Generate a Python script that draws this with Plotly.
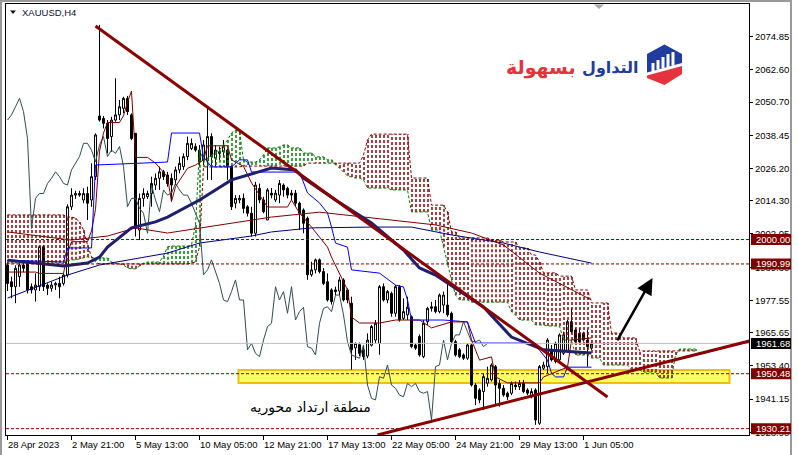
import plotly.graph_objects as go

# ---------------------------------------------------------------- data
# H4 candles, bar 0 = 28 Apr 2023
bar_open = [
    1990.6, 1984.4, 1982.6, 1986.3, 1990.6, 1991.2, 1982.6, 1981.4, 1982.6, 1997.4,
    1983.2, 1982.0, 1983.2, 1983.8, 1983.8, 1986.9, 2012.1, 2016.4, 2017.0, 2014.6,
    2017.0, 2014.6, 2023.2, 2045.6, 2044.7, 2042.9, 2038.0, 2044.1, 2046.0, 2048.4,
    2052.1, 2046.0, 2039.2, 2003.5, 2015.2, 2015.8, 2017.0, 2020.1, 2022.6, 2025.0,
    2023.8, 2022.6, 2022.0, 2025.7, 2026.9, 2030.6, 2033.6, 2034.3, 2033.0, 2029.3,
    2029.0, 2038.0, 2030.0, 2032.4, 2032.4, 2033.0, 2026.9, 2013.4, 2014.6, 2015.2,
    2012.1, 2009.7, 2002.3, 2018.9, 2014.6, 2007.2, 2017.1, 2014.6, 2016.4, 2020.1,
    2018.9, 2017.1, 2017.1, 2013.4, 2010.9, 2007.9, 1987.0, 1988.8, 1992.5, 1988.2,
    1984.4, 1981.4, 1981.4, 1981.0, 1985.1, 1981.4, 1976.5, 1960.0, 1961.2, 1959.3,
    1957.0, 1961.0, 1962.9, 1961.7, 1982.6, 1977.7, 1980.1, 1972.8, 1982.6, 1970.9,
    1972.2, 1971.5, 1961.1, 1964.2, 1956.8, 1969.7, 1974.6, 1975.2, 1973.4, 1975.8,
    1975.8, 1972.8, 1962.3, 1959.3, 1957.4, 1956.2, 1961.1, 1946.3, 1944.5, 1943.9,
    1947.0, 1948.2, 1953.1, 1946.9, 1945.1, 1943.3, 1943.3, 1946.3, 1945.7, 1946.9,
    1944.5, 1942.0, 1944.5, 1932.2, 1952.5, 1953.1, 1959.3, 1955.0, 1955.6, 1958.0,
    1958.6, 1969.7, 1966.6, 1965.4, 1965.4, 1962.9, 1959.9]
bar_high = [
    1991.5, 1986.3, 1990.5, 1992.4, 1991.5, 1992.0, 1983.8, 1987.5, 1997.8, 1998.0,
    1983.8, 1984.4, 1984.4, 1986.3, 1987.5, 2013.0, 2018.9, 2018.0, 2018.0, 2018.9,
    2019.5, 2028.1, 2039.2, 2079.2, 2045.6, 2044.1, 2045.3, 2059.5, 2051.5, 2052.7,
    2053.0, 2046.6, 2039.2, 2017.0, 2018.9, 2018.0, 2023.2, 2024.4, 2026.9, 2025.7,
    2025.0, 2024.4, 2026.9, 2030.6, 2031.8, 2038.0, 2037.3, 2035.5, 2034.9, 2036.7,
    2049.0, 2039.2, 2034.9, 2034.3, 2036.7, 2033.6, 2027.5, 2016.4, 2016.4, 2017.0,
    2012.7, 2012.1, 2021.3, 2020.7, 2015.8, 2019.0, 2019.0, 2018.3, 2022.0, 2020.7,
    2019.5, 2018.3, 2018.3, 2014.0, 2011.5, 2008.5, 1991.8, 1993.0, 1993.0, 1989.5,
    1987.5, 1982.0, 1982.6, 1986.3, 1985.7, 1982.0, 1978.9, 1962.0, 1962.0, 1960.5,
    1965.4, 1968.5, 1970.3, 1983.2, 1983.8, 1981.4, 1980.8, 1983.2, 1983.2, 1978.3,
    1978.9, 1972.0, 1961.7, 1965.0, 1970.3, 1975.2, 1977.0, 1977.7, 1980.1, 1980.8,
    1983.8, 1973.4, 1963.0, 1960.0, 1958.0, 1961.7, 1961.7, 1947.0, 1945.1, 1950.6,
    1953.1, 1954.3, 1953.7, 1948.2, 1946.3, 1943.9, 1947.6, 1947.6, 1948.2, 1948.2,
    1945.1, 1945.1, 1945.1, 1953.7, 1954.9, 1963.6, 1961.1, 1962.3, 1965.4, 1966.0,
    1970.3, 1974.6, 1967.3, 1967.3, 1966.0, 1966.6, 1962.3]
bar_low = [
    1981.0, 1978.3, 1976.5, 1982.6, 1988.0, 1980.1, 1980.1, 1977.1, 1981.0, 1981.0,
    1979.5, 1980.8, 1981.4, 1978.3, 1983.0, 1986.0, 2010.9, 2015.0, 2015.8, 2013.4,
    2007.2, 2012.1, 2022.0, 2043.5, 2041.0, 2031.8, 2032.4, 2043.5, 2044.1, 2046.6,
    2046.0, 2036.7, 2001.1, 1999.8, 2012.1, 2015.0, 2012.1, 2018.3, 2018.3, 2022.0,
    2019.5, 2014.6, 2020.1, 2024.4, 2025.7, 2029.3, 2033.0, 2032.4, 2026.9, 2027.5,
    2022.0, 2022.0, 2026.9, 2029.4, 2030.6, 2022.0, 2010.9, 2011.5, 2013.4, 2009.7,
    2008.5, 2001.1, 2001.1, 2013.4, 2009.7, 2007.2, 2015.2, 2013.9, 2013.4, 2015.8,
    2015.2, 2014.6, 2012.1, 2003.5, 2002.3, 1985.1, 1986.3, 1987.5, 1987.5, 1983.2,
    1977.1, 1976.0, 1979.5, 1979.5, 1977.1, 1976.5, 1951.9, 1955.6, 1957.0, 1955.6,
    1956.2, 1960.5, 1961.7, 1957.5, 1977.1, 1976.5, 1971.5, 1971.5, 1969.7, 1970.3,
    1970.3, 1959.9, 1959.3, 1956.8, 1956.2, 1968.5, 1973.4, 1972.8, 1972.8, 1972.8,
    1971.5, 1961.7, 1956.8, 1956.2, 1955.6, 1955.6, 1945.7, 1938.9, 1939.6, 1937.1,
    1945.7, 1947.6, 1938.9, 1938.3, 1942.0, 1940.8, 1942.6, 1944.5, 1944.5, 1943.3,
    1942.6, 1941.4, 1931.6, 1931.6, 1951.9, 1950.6, 1955.0, 1954.3, 1955.0, 1957.4,
    1958.6, 1965.4, 1961.7, 1961.7, 1962.3, 1953.1, 1959.3]
bar_close = [
    1983.8, 1982.6, 1989.4, 1990.6, 1989.4, 1981.4, 1981.4, 1983.2, 1997.4, 1982.6,
    1982.0, 1983.2, 1983.8, 1982.6, 1986.9, 2012.1, 2016.4, 2017.0, 2016.4, 2017.0,
    2013.4, 2023.2, 2038.6, 2044.1, 2042.9, 2037.3, 2044.1, 2046.0, 2049.0, 2052.1,
    2047.2, 2037.3, 2004.1, 2015.2, 2017.0, 2017.0, 2020.7, 2022.6, 2025.0, 2023.2,
    2020.7, 2020.1, 2025.7, 2028.1, 2030.6, 2035.5, 2035.5, 2033.0, 2028.7, 2034.9,
    2038.0, 2030.6, 2033.0, 2031.8, 2034.3, 2026.9, 2012.1, 2015.2, 2015.2, 2011.5,
    2009.7, 2002.3, 2020.1, 2014.6, 2010.3, 2018.3, 2016.4, 2017.1, 2020.7, 2018.3,
    2016.4, 2016.4, 2013.4, 2009.7, 2006.0, 1987.0, 1988.8, 1992.5, 1988.2, 1983.8,
    1977.7, 1977.1, 1980.8, 1985.1, 1977.7, 1977.7, 1959.3, 1961.7, 1958.0, 1956.8,
    1962.9, 1967.9, 1969.1, 1982.6, 1977.7, 1980.8, 1972.8, 1982.6, 1970.3, 1973.4,
    1975.0, 1960.5, 1959.9, 1957.4, 1969.1, 1974.6, 1975.2, 1973.4, 1979.5, 1979.5,
    1972.2, 1962.3, 1957.4, 1956.8, 1956.2, 1961.1, 1946.3, 1941.4, 1940.8, 1949.4,
    1948.8, 1953.7, 1946.3, 1945.1, 1942.6, 1942.0, 1946.9, 1945.7, 1946.9, 1943.9,
    1943.3, 1943.9, 1933.4, 1953.1, 1953.7, 1962.9, 1955.6, 1961.7, 1964.8, 1964.8,
    1969.7, 1966.0, 1962.3, 1962.3, 1962.9, 1960.5, 1961.68]
bar_index = list(range(len(bar_close)))

axis_tick_bars = [0, 16, 32, 48, 64, 80, 96, 112, 128, 144]
axis_tick_text = ["28 Apr 2023", "2 May 21:00", "5 May 13:00", "10 May 05:00",
                  "12 May 21:00", "17 May 13:00", "22 May 05:00", "24 May 21:00",
                  "29 May 13:00", "1 Jun 05:00"]
price_ticks = [2074.85, 2062.60, 2050.70, 2038.45, 2026.20, 2014.30, 2002.05,
               1989.80, 1977.55, 1965.65, 1953.40, 1941.15, 1928.90]

# Ichimoku cloud (senkou spans, one value per bar, bars 0..172)
senkou_a = [
    1991.3, 1991.3, 1991.3, 1991.3, 1991.3, 1991.3, 1991.3, 1991.3, 1991.3, 1991.3,
    1991.3, 1991.3, 1991.3, 1991.3, 1991.3, 1992.1, 1992.5, 1992.5, 1992.8, 1993.2,
    1993.6, 1993.2, 1993.2, 1993.2, 1993.2, 1993.2, 1991.7, 1991.3, 1991.0, 1990.6,
    1989.5, 1989.2, 1989.2, 1990.2, 1991.3, 1991.7, 1991.7, 1991.7, 1991.7, 1993.9,
    1997.3, 1997.6, 1997.6, 1997.6, 1997.6, 1997.6, 1998.0, 2005.4, 2033.1, 2029.4,
    2030.1, 2031.2, 2032.3, 2033.1, 2034.9, 2036.7, 2039.3, 2040.4, 2039.7, 2029.4,
    2028.6, 2028.6, 2028.6, 2029.4, 2031.2, 2033.8, 2033.8, 2033.8, 2034.2, 2034.9,
    2034.9, 2033.8, 2033.8, 2033.8, 2031.9, 2031.9, 2031.9, 2030.5, 2030.5, 2030.5,
    2029.4, 2029.4, 2027.5, 2026.4, 2024.9, 2023.5, 2023.1, 2022.7, 2022.7, 2022.0,
    2019.0, 2019.0, 2019.0, 2019.0, 2019.0, 2019.0, 2018.3, 2018.3, 2018.3, 2018.3,
    2018.3, 2010.2, 2010.2, 2010.2, 2010.2, 2010.2, 2003.5, 2003.5, 2003.5, 1997.3,
    1990.6, 1985.1, 1979.5, 1977.7, 1977.7, 1977.7, 1976.9, 1976.9, 1976.9, 1976.9,
    1976.9, 1976.9, 1976.9, 1976.9, 1976.9, 1976.9, 1973.3, 1972.2, 1970.3, 1970.3,
    1970.3, 1970.3, 1968.5, 1968.5, 1968.5, 1968.1, 1968.1, 1968.1, 1968.1, 1962.9,
    1962.9, 1962.9, 1957.4, 1957.4, 1957.4, 1957.4, 1956.3, 1956.3, 1956.3, 1953.7,
    1953.7, 1953.7, 1953.7, 1953.7, 1953.7, 1953.7, 1951.9, 1951.9, 1951.9, 1951.1,
    1951.1, 1951.1, 1951.1, 1948.9, 1948.9, 1948.9, 1948.9, 1957.4, 1959.6, 1959.6,
    1959.6, 1959.6, 1959.6]
senkou_b = [
    2009.1, 2009.1, 2009.1, 2009.1, 2009.1, 2009.1, 2009.1, 2009.1, 2009.1, 2009.1,
    2009.1, 2009.1, 2009.1, 2009.1, 2009.1, 2008.3, 2008.3, 2007.9, 2006.5, 2003.5,
    1998.0, 1993.6, 1991.7, 1991.0, 1991.0, 1991.0, 1991.0, 1991.0, 1991.0, 1991.0,
    1991.0, 1991.0, 1991.0, 1991.0, 1991.0, 1991.0, 1991.0, 1991.0, 1991.0, 1991.0,
    1991.0, 1991.0, 1991.0, 1991.0, 1991.0, 1991.0, 1991.3, 1991.7, 1997.3, 2026.8,
    2026.8, 2026.8, 2026.8, 2026.8, 2026.8, 2026.8, 2026.8, 2026.8, 2026.8, 2027.1,
    2027.1, 2027.1, 2027.1, 2027.1, 2027.1, 2027.1, 2027.1, 2027.1, 2027.1, 2027.1,
    2027.1, 2027.1, 2027.1, 2027.1, 2027.1, 2028.2, 2028.2, 2028.2, 2028.2, 2028.2,
    2028.2, 2028.2, 2028.2, 2028.2, 2028.2, 2028.2, 2028.2, 2028.2, 2028.2, 2031.2,
    2036.7, 2038.9, 2038.9, 2038.9, 2038.9, 2038.9, 2038.9, 2038.9, 2038.9, 2038.9,
    2038.9, 2022.7, 2022.7, 2022.7, 2022.7, 2022.7, 2012.7, 2012.7, 2012.7, 2012.7,
    2010.2, 2002.8, 2002.8, 2000.6, 2000.6, 2000.6, 2000.6, 2000.6, 2000.6, 2000.6,
    2000.6, 1999.8, 1999.8, 1999.8, 1999.1, 1999.1, 1999.1, 1999.1, 1996.9, 1996.9,
    1996.9, 1994.3, 1994.3, 1991.7, 1987.7, 1987.7, 1987.7, 1987.7, 1986.5, 1986.5,
    1986.5, 1986.5, 1981.4, 1981.4, 1981.4, 1981.4, 1976.6, 1976.6, 1976.6, 1976.6,
    1976.6, 1965.5, 1965.5, 1965.5, 1963.7, 1963.7, 1963.7, 1963.7, 1958.9, 1958.9,
    1958.9, 1958.9, 1958.9, 1958.9, 1958.9, 1958.9, 1958.9, 1958.9, 1958.9, 1958.9,
    1958.9, 1958.9, 1958.9]
cloud_bars = list(range(len(senkou_a)))

# Tenkan-sen (dark red, stepped)
tenkan_bars = [0, 7, 8, 14, 15, 16, 20, 21, 22, 23, 24, 25, 28, 29, 30, 31, 32, 35,
               37, 40, 41, 42, 45, 47, 49, 50, 55, 56, 59, 61, 65, 70, 71, 73, 76,
               78, 80, 81, 83, 85, 86, 88, 93, 97, 103, 106, 111, 115, 116, 118, 121,
               122, 125, 133, 134, 137, 140, 141, 146]
tenkan_vals = [1988.0, 1988.0, 1987.5, 1987.5, 1995.0, 1999.2, 1999.2, 2003.2, 2011.1,
               2032.6, 2039.3, 2043.2, 2043.2, 2045.7, 2050.6, 2054.8, 2030.3, 2030.3,
               2028.2, 2023.1, 2014.0, 2019.5, 2026.3, 2027.5, 2029.4, 2034.6, 2034.6,
               2029.4, 2027.0, 2020.9, 2012.0, 2012.0, 2014.6, 2009.8, 2004.6, 2000.9,
               1997.2, 1993.5, 1987.6, 1981.4, 1971.4, 1969.2, 1969.2, 1970.3, 1970.3,
               1967.4, 1969.6, 1969.6, 1963.0, 1955.5, 1956.7, 1949.3, 1947.1, 1947.1,
               1949.3, 1951.1, 1952.9, 1962.9, 1963.7]
# Kijun-sen (blue, stepped)
kijun_bars = [0, 14, 15, 21, 22, 40, 41, 48, 49, 51, 56, 58, 60, 61, 73, 75, 78, 80,
              81, 82, 85, 86, 93, 97, 99, 100, 101, 109, 115, 116, 117, 131, 133, 135,
              136, 137, 139, 140, 146]
kijun_vals = [1992.4, 1991.7, 1996.9, 1996.9, 2027.5, 2028.6, 2039.3, 2039.3, 2030.5,
              2026.8, 2026.8, 2029.4, 2029.4, 2024.9, 2024.9, 2017.2, 2013.5, 2009.8,
              2004.6, 1998.7, 1997.2, 1988.8, 1987.6, 1983.2, 1982.5, 1977.7, 1970.3,
              1970.3, 1969.6, 1965.5, 1961.8, 1961.8, 1959.2, 1955.5, 1950.7, 1949.3,
              1949.3, 1952.9, 1952.9]
chikou_shift = 26

# moving averages
ma_thick_bars = [0, 14, 20, 23, 25, 31, 37, 40, 48, 50, 56, 66, 72, 74, 82, 91, 99,
                 103, 107, 119, 126, 134, 146]
ma_thick_vals = [1992.4, 1990.2, 1991.3, 1993.5, 1997.2, 2004.3, 2006.5, 2008.3,
                 2014.6, 2016.4, 2022.0, 2026.4, 2025.7, 2022.7, 2014.6, 2006.1,
                 1996.1, 1989.5, 1986.9, 1975.1, 1964.0, 1959.3, 1958.1]
ma_navy_bars = [0, 15, 23, 40, 48, 61, 66, 76, 91, 101, 111, 124, 133, 146]
ma_navy_vals = [1978.4, 1986.9, 1990.6, 1995.0, 1998.7, 2001.3, 2002.8, 2004.3,
                2004.6, 2004.6, 2001.7, 1998.7, 1995.4, 1991.3]
ma_red_bars = [0, 16, 25, 32, 40, 50, 66, 78, 91, 107, 116, 124, 133, 146]
ma_red_vals = [2002.8, 1999.8, 2001.3, 2004.3, 2002.4, 2004.6, 2008.3, 2010.1,
               2007.9, 2005.4, 2002.4, 1998.0, 1987.6, 1977.7]

# drawn objects
level_prices = [2000.00, 1990.99, 1950.48, 1930.21]
bid_price = 1961.68
down_trend_bars = [22, 150]
down_trend_prices = [2078.8, 1941.9]
up_trend_bars = [92.5, 185.5]
up_trend_prices = [1927.87, 1962.56]
zone_bars = [57.75, 180.5]
zone_prices = [1947.06, 1951.85]
arrow_bars = [152.25, 161.25]
arrow_prices = [1962.2, 1985.8]
zone_label = "منطقة ارتداد محوريه"
zone_label_bar = 75.75
zone_label_price = 1938.2

# ---------------------------------------------------------------- layout consts
W, H = 798, 455
ML, MR, MT, MB = 6, 49, 4, 20
PW, PH = W - ML - MR, H - MT - MB
X_RANGE = [-0.375, 185.375]
Y_RANGE = [1927.87, 2086.92]
UNIT_PER_PX = (Y_RANGE[1] - Y_RANGE[0]) / PH
FONT = "Liberation Sans"
DARKRED = "#800000"
HATCH_RED = "#8B0000"
HATCH_GREEN = "#008000"
HATCH_OFFSET = 0.125  # half a pixel, so each hatch stroke spans two pixel columns


def pxx(x):
    return (x - ML) / PW


def pyy(y):
    return 1 - (y - MT) / PH


fig = go.Figure()

# cloud hatching
red_x, red_y, grn_x, grn_y = [], [], [], []
for k, a, b in zip(cloud_bars, senkou_a, senkou_b):
    hx = k + HATCH_OFFSET
    if b > a:
        red_x += [hx, hx, None]
        red_y += [a, b, None]
    elif a > b:
        grn_x += [hx, hx, None]
        grn_y += [a, b, None]
fig.add_trace(go.Scatter(x=red_x, y=red_y, mode="lines",
                         line=dict(color=HATCH_RED, width=1.5, dash="3px,2px"),
                         hoverinfo="skip"))
fig.add_trace(go.Scatter(x=grn_x, y=grn_y, mode="lines",
                         line=dict(color=HATCH_GREEN, width=1.5, dash="3px,2px"),
                         hoverinfo="skip"))
fig.add_trace(go.Scatter(x=cloud_bars, y=senkou_b, mode="lines",
                         line=dict(color=HATCH_RED, width=1, dash="3px,2px"),
                         hoverinfo="skip"))
fig.add_trace(go.Scatter(x=cloud_bars, y=senkou_a, mode="lines",
                         line=dict(color=HATCH_GREEN, width=1, dash="3px,2px"),
                         hoverinfo="skip"))

# slow MAs
fig.add_trace(go.Scatter(x=ma_navy_bars, y=ma_navy_vals, mode="lines",
                         line=dict(color="#000080", width=1), hoverinfo="skip"))
fig.add_trace(go.Scatter(x=ma_red_bars, y=ma_red_vals, mode="lines",
                         line=dict(color=DARKRED, width=1), hoverinfo="skip"))

# chikou (close shifted back)
fig.add_trace(go.Scatter(x=[i - chikou_shift for i in bar_index[chikou_shift:]],
                         y=bar_close[chikou_shift:], mode="lines",
                         line=dict(color="#2F4F4F", width=1), hoverinfo="skip"))

# candles
fig.add_trace(go.Candlestick(
    x=bar_index, open=bar_open, high=bar_high, low=bar_low, close=bar_close,
    increasing=dict(line=dict(color="black", width=1), fillcolor="white"),
    decreasing=dict(line=dict(color="black", width=1), fillcolor="black"),
    whiskerwidth=0, hoverinfo="skip"))

# tenkan / kijun
fig.add_trace(go.Scatter(x=tenkan_bars, y=tenkan_vals, mode="lines",
                         line=dict(color=DARKRED, width=1), hoverinfo="skip"))
fig.add_trace(go.Scatter(x=kijun_bars, y=kijun_vals, mode="lines",
                         line=dict(color="#0000FF", width=1), hoverinfo="skip"))
# thick MA
fig.add_trace(go.Scatter(x=ma_thick_bars, y=ma_thick_vals, mode="lines",
                         line=dict(color="#1F1F6E", width=3), hoverinfo="skip"))

# horizontal levels
for lv in level_prices:
    fig.add_trace(go.Scatter(x=X_RANGE, y=[lv, lv], mode="lines",
                             line=dict(color=DARKRED, width=1, dash="3px,2px"),
                             hoverinfo="skip"))
fig.add_trace(go.Scatter(x=X_RANGE, y=[bid_price, bid_price], mode="lines",
                         line=dict(color="#C0C0C0", width=1), hoverinfo="skip"))

# trend lines
fig.add_trace(go.Scatter(x=down_trend_bars, y=down_trend_prices, mode="lines",
                         line=dict(color="#8B0000", width=3), hoverinfo="skip"))
fig.add_trace(go.Scatter(x=up_trend_bars, y=up_trend_prices, mode="lines",
                         line=dict(color="#8B0000", width=3), hoverinfo="skip"))

shapes = []
# yellow zone (background)
shapes.append(dict(type="rect", xref="x", yref="y", layer="below",
                   x0=zone_bars[0], x1=zone_bars[1], y0=zone_prices[0], y1=zone_prices[1],
                   fillcolor="#FFFF66", line=dict(color="#F0C000", width=2)))
# outer window border
shapes += [
    dict(type="line", xref="paper", yref="paper", x0=pxx(1), x1=pxx(1), y0=pyy(0), y1=pyy(455),
         line=dict(color="#9a9a9a", width=2)),
    dict(type="line", xref="paper", yref="paper", x0=pxx(0), x1=pxx(792), y0=pyy(1), y1=pyy(1),
         line=dict(color="#9a9a9a", width=2)),
    dict(type="line", xref="paper", yref="paper", x0=pxx(791), x1=pxx(791), y0=pyy(0), y1=pyy(455),
         line=dict(color="#9a9a9a", width=2)),
]
# small markers
shapes.append(dict(type="path", xref="paper", yref="paper",
                   path=f"M {pxx(10)} {pyy(10.5)} L {pxx(16)} {pyy(10.5)} L {pxx(13)} {pyy(14)} Z",
                   fillcolor="#101030", line=dict(width=0)))
shapes.append(dict(type="path", xref="paper", yref="paper",
                   path=f"M {pxx(594)} {pyy(4.5)} L {pxx(604)} {pyy(4.5)} L {pxx(599)} {pyy(9)} Z",
                   fillcolor="#a8a8a8", line=dict(width=0)))

# price label boxes
half = 5.5 * UNIT_PER_PX
for lv in level_prices:
    shapes.append(dict(type="rect", xref="paper", yref="y", x0=pxx(751), x1=pxx(791),
                       y0=lv - half, y1=lv + half, fillcolor=DARKRED, line=dict(width=0)))
shapes.append(dict(type="rect", xref="paper", yref="y", x0=pxx(751), x1=pxx(791),
                   y0=bid_price - half, y1=bid_price + half, fillcolor="black",
                   line=dict(width=0)))

# logo icon
def poly(points):
    return "M " + " L ".join(f"{pxx(a)} {pyy(b)}" for a, b in points) + " Z"

shapes.append(dict(type="path", xref="paper", yref="paper",
                   path=poly([(647, 54), (664.5, 44.5), (682, 54), (682, 63), (647, 72.5)]),
                   fillcolor="#1f3c9e", line=dict(width=0)))
shapes.append(dict(type="path", xref="paper", yref="paper",
                   path=poly([(647, 75.5), (682, 66), (682, 74), (664.5, 85), (647, 78)]),
                   fillcolor="#e5323d", line=dict(width=0)))
for bx, top in [(651.5, 63), (656.5, 60), (661.5, 57), (666.5, 54), (671.5, 52)]:
    shapes.append(dict(type="rect", xref="paper", yref="paper",
                       x0=pxx(bx), x1=pxx(bx + 3), y0=pyy(71 - (bx - 651.5) * 0.26), y1=pyy(top),
                       fillcolor="white", line=dict(width=0)))

annotations = []
for tb, tt in zip(axis_tick_bars, axis_tick_text):
    annotations.append(dict(x=tb, y=0, xref="x", yref="paper", text=tt, showarrow=False,
                            xanchor="left", yanchor="top", xshift=-2, yshift=-2,
                            font=dict(family=FONT, size=9.5, color="black")))
for lv in level_prices:
    annotations.append(dict(x=pxx(754), y=lv, xref="paper", yref="y", text=f"{lv:.2f}",
                            showarrow=False, xanchor="left", yanchor="middle",
                            font=dict(family=FONT, size=9.5, color="white")))
annotations.append(dict(x=pxx(754), y=bid_price, xref="paper", yref="y",
                        text=f"{bid_price:.2f}", showarrow=False, xanchor="left",
                        yanchor="middle", font=dict(family=FONT, size=9.5, color="white")))
annotations.append(dict(x=pxx(20), y=pyy(12.5), xref="paper", yref="paper", text="XAUUSD,H4",
                        showarrow=False, xanchor="left", yanchor="middle",
                        font=dict(family=FONT, size=9.5, color="#101030")))
annotations.append(dict(x=zone_label_bar, y=zone_label_price, xref="x", yref="y",
                        text=zone_label, showarrow=False, xanchor="center", yanchor="middle",
                        font=dict(family="DejaVu Sans", size=14, color="black")))
annotations.append(dict(x=arrow_bars[1], y=arrow_prices[1], ax=arrow_bars[0], ay=arrow_prices[0],
                        xref="x", yref="y", axref="x", ayref="y", text="", showarrow=True,
                        arrowhead=2, arrowsize=1.3, arrowwidth=2.5, arrowcolor="black"))
annotations.append(dict(x=pxx(641), y=pyy(67), xref="paper", yref="paper",
                        text="<b>التداول</b>", showarrow=False, xanchor="right",
                        yanchor="middle",
                        font=dict(family="DejaVu Sans", size=16, color="#1f3c9e")))
annotations.append(dict(x=pxx(578), y=pyy(67), xref="paper", yref="paper",
                        text="<b>بسهولة</b>", showarrow=False, xanchor="right",
                        yanchor="middle",
                        font=dict(family="DejaVu Sans", size=19, color="#e5323d")))

fig.update_layout(
    width=W, height=H, margin=dict(l=ML, r=MR, t=MT, b=MB),
    paper_bgcolor="white", plot_bgcolor="white", showlegend=False,
    font=dict(family=FONT, size=9.5, color="black"),
    shapes=shapes, annotations=annotations,
    xaxis=dict(range=X_RANGE, showgrid=False, zeroline=False, showline=True, mirror=True,
               linecolor="black", linewidth=1, ticks="outside", ticklen=4, tickcolor="black",
               tickvals=axis_tick_bars, showticklabels=False,
               rangeslider=dict(visible=False), fixedrange=True),
    yaxis=dict(range=Y_RANGE, side="right", showgrid=False, zeroline=False, showline=True,
               mirror=True, linecolor="black", linewidth=1, ticks="outside", ticklen=3,
               tickcolor="black", tickvals=price_ticks,
               ticktext=[f"{v:.2f}" for v in price_ticks],
               tickfont=dict(family=FONT, size=9.5, color="black"), fixedrange=True),
)

fig.write_html("out.html", config={"displayModeBar": False},
               post_script="document.body.style.margin='0px';"
                           "document.body.style.overflow='hidden';")
